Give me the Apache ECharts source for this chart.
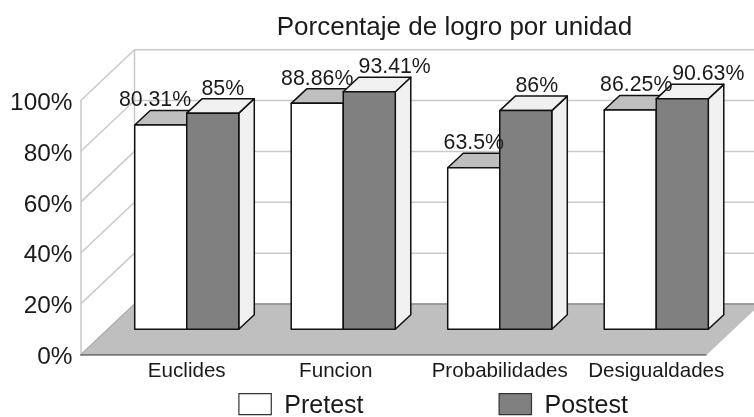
<!DOCTYPE html>
<html><head><meta charset="utf-8">
<style>html,body{margin:0;padding:0;background:#fff}#c{width:754px;height:417px}</style>
<script src="https://cdn.jsdelivr.net/npm/echarts@6/dist/echarts.min.js"></script>
</head><body><div id="c"></div>
<script>
var categories = ['Euclides','Funcion','Probabilidades','Desigualdades'];
var pretest = [80.31, 88.86, 63.5, 86.25];
var postest = [85, 93.41, 86, 90.63];
var pretestLabels = ['80.31%','88.86%','63.5%','86.25%'];
var postestLabels = ['85%','93.41%','86%','90.63%'];
var wallTicks = [0,20,40,60,80,100];

// styling / projection constants
var FONT = 'Liberation Sans';
var INK = '#1a1a1a';
var WALL_DX = 54, WALL_DY = 51, AXIS_OFFSET = 28;
var BAR_LIFT = 25.7, SIDE_DX = 15.5, SIDE_DY = 14.5, BAR_RATIO = 0.3325;
var preLabelShift = [-5.7, 0, 0, 6];
var postLabelShift = [10, 25.4, 11, 26];
var EDGE = '#111';
var WALL = '#c9c9c9';

var chart = echarts.init(document.getElementById('c'), null, {renderer:'canvas'});

function bar(api, front, top, side, sign){
  var i = api.value(0), v = api.value(1);
  var base = api.coord([i,0]), head = api.coord([i,v]);
  var w = api.size([1,0])[0]*BAR_RATIO;
  var x0 = sign<0 ? base[0]-w : base[0], x1 = x0+w;
  var yb = base[1]-BAR_LIFT, yt = head[1]-BAR_LIFT;
  var s = {stroke:EDGE, lineWidth:1.5, lineJoin:'round'};
  return {type:'group', children:[
    {type:'polygon', shape:{points:[[x1,yb],[x1+SIDE_DX,yb-SIDE_DY],[x1+SIDE_DX,yt-SIDE_DY],[x1,yt]]}, style:Object.assign({fill:side},s)},
    {type:'polygon', shape:{points:[[x0,yt],[x0+SIDE_DX,yt-SIDE_DY],[x1+SIDE_DX,yt-SIDE_DY],[x1,yt]]}, style:Object.assign({fill:top},s)},
    {type:'rect', shape:{x:x0,y:yt,width:w,height:yb-yt}, style:Object.assign({fill:front},s)}
  ]};
}
function label(api, texts, shifts, sign){
  var i = api.value(0), v = api.value(1);
  var head = api.coord([i,v]);
  var w = api.size([1,0])[0]*BAR_RATIO;
  return {type:'text', style:{text:texts[i], x:head[0]+sign*w/2+shifts[i], y:head[1]-BAR_LIFT-24.5,
    align:'center', verticalAlign:'middle', fill:INK, font:'21.3px "'+FONT+'"'}};
}

chart.setOption({
  animation:false,
  title:{text:'Porcentaje de logro por unidad', left:449.5, top:10, textAlign:'center',
    textStyle:{fontFamily:FONT, fontSize:26, fontWeight:'normal', color:INK}},
  legend:{left:238.3, top:393, padding:0, itemWidth:32.4, itemHeight:21, itemGap:135,
    formatter:'{t|{name}}',
    textStyle:{fontFamily:FONT, fontSize:25, color:INK, padding:[0,0,0,8],
      rich:{t:{fontFamily:FONT, fontSize:25, color:INK, padding:[4,0,0,0]}}},
    data:[{name:'Pretest',icon:'rect',itemStyle:{color:'#fff',borderColor:'#333',borderWidth:1.2}},
          {name:'Postest',icon:'rect',itemStyle:{color:'#808080',borderColor:'#333',borderWidth:1.2}}]},
  grid:{left:108.5, width:626, top:100.7, height:254.3, containLabel:false},
  xAxis:{type:'category', data:categories.map(function(c){
      return c==='Funcion' ? {value:c, textStyle:{padding:[0,15,0,0]}} : c;}),
    axisLine:{show:false}, axisTick:{show:false}, splitLine:{show:false},
    axisLabel:{fontFamily:FONT, fontSize:20.6, color:INK, margin:6, interval:0}},
  yAxis:{type:'value', min:0, max:100, interval:20, offset:AXIS_OFFSET,
    axisLine:{show:true, lineStyle:{color:WALL,width:1.5}}, axisTick:{show:false}, splitLine:{show:false},
    axisLabel:{formatter:'{a|{value}%}', color:INK, margin:8,
      rich:{a:{fontFamily:FONT, fontSize:24.4, color:INK, padding:[5,0,0,0]}}}},
  series:[
    {type:'custom', name:'wall', silent:true, z:1, clip:false, data:wallTicks.map(function(t){return [0,t];}),
     renderItem:function(params, api){
       var y = api.coord([0,api.value(1)])[1];
       var cs = params.coordSys, xf = cs.x-AXIS_OFFSET, xb = xf+WALL_DX, s={stroke:WALL,lineWidth:1.5,fill:null};
       var kids = [
         {type:'line', shape:{x1:xf,y1:y,x2:xb,y2:y-WALL_DY}, style:s},
         {type:'line', shape:{x1:xb,y1:y-WALL_DY,x2:754,y2:y-WALL_DY}, style:s}
       ];
       if(api.value(1)===0){
         var b=cs.y+cs.height, t=cs.y;
         kids.push({type:'line', shape:{x1:xb,y1:t-WALL_DY,x2:xb,y2:b-WALL_DY}, style:s});
       }
       return {type:'group', children:kids};
     }},
    {type:'custom', name:'floor', silent:true, z:2, clip:false, data:[[0,0]],
     renderItem:function(params, api){
       var cs=params.coordSys, xf=cs.x-AXIS_OFFSET, xr=xf+cs.width, b=api.coord([0,0])[1];
       return {type:'group', children:[
         {type:'polygon', shape:{points:[[xf,b],[xr,b],[xr+WALL_DX,b-WALL_DY],[xf+WALL_DX,b-WALL_DY]]}, style:{fill:'#bfbfbf'}},
         {type:'line', shape:{x1:xf+WALL_DX,y1:b-WALL_DY,x2:xr+WALL_DX,y2:b-WALL_DY}, style:{stroke:'#8c8c8c',lineWidth:1.5}},
         {type:'line', shape:{x1:xf,y1:b,x2:xf+WALL_DX,y2:b-WALL_DY}, style:{stroke:'#a0a0a0',lineWidth:1}},
         {type:'line', shape:{x1:xf,y1:b,x2:xr,y2:b}, style:{stroke:'#333',lineWidth:1.2}}
       ]};
     }},
    {type:'custom', name:'Pretest', z:3, clip:false, itemStyle:{color:'#fff'},
     data:pretest.map(function(v,i){return [i,v];}),
     renderItem:function(p,api){return bar(api,'#ffffff','#bfbfbf','#f0f0f0',-1);}},
    {type:'custom', name:'Postest', z:4, clip:false, itemStyle:{color:'#808080'},
     data:postest.map(function(v,i){return [i,v];}),
     renderItem:function(p,api){return bar(api,'#808080','#f0f0f0','#f0f0f0',1);}},
    {type:'custom', name:'preLabels', silent:true, z:5, clip:false, data:pretest.map(function(v,i){return [i,v];}),
     renderItem:function(p,api){return label(api,pretestLabels,preLabelShift,-1);}},
    {type:'custom', name:'postLabels', silent:true, z:5, clip:false, data:postest.map(function(v,i){return [i,v];}),
     renderItem:function(p,api){return label(api,postestLabels,postLabelShift,1);}}
  ]
});
</script></body></html>
